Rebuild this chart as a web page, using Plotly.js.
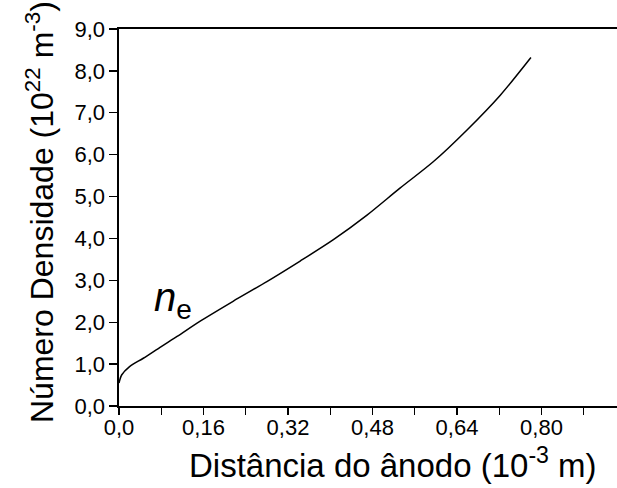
<!DOCTYPE html>
<html><head><meta charset="utf-8">
<script src="https://cdn.plot.ly/plotly-3.0.1.min.js"></script>
<style>body{margin:0;background:#fff}</style>
</head><body>
<div id="chart" style="width:617px;height:488px"></div>
<script>
const distance = [0.000, 0.005, 0.020, 0.046, 0.080, 0.110, 0.153, 0.216, 0.280, 0.343, 0.406, 0.469, 0.532, 0.595, 0.659, 0.722, 0.780];
const density  = [0.55, 0.74, 0.94, 1.14, 1.42, 1.66, 2.02, 2.50, 2.97, 3.46, 3.97, 4.55, 5.20, 5.83, 6.59, 7.42, 8.32];
const xTickVals = [0, 0.08, 0.16, 0.24, 0.32, 0.40, 0.48, 0.56, 0.64, 0.72, 0.80, 0.88];
const xTickText = ["0,0", "", "0,16", "", "0,32", "", "0,48", "", "0,64", "", "0,80", ""];
const yTickVals = [0, 1, 2, 3, 4, 5, 6, 7, 8, 9];
const yTickText = ["0,0", "1,0", "2,0", "3,0", "4,0", "5,0", "6,0", "7,0", "8,0", "9,0"];
const xTitle = 'Distância do ânodo (10<sup>-3</sup> m)';
const yTitle = 'Número Densidade (10<sup>22</sup> m<sup>-3</sup>)';
const curveLabel = {x: 0.102, y: 2.53, text: "<i>n</i><sub>e</sub>"};

const font = "Liberation Sans";
Plotly.newPlot('chart', [{
  x: distance, y: density, mode: 'lines', type: 'scatter',
  line: {color: '#000', width: 1.5, shape: 'spline', smoothing: 0.8}, hoverinfo: 'skip'
}], {
  width: 617, height: 488,
  margin: {l: 119, r: 0, t: 29, b: 82},
  paper_bgcolor: '#fff', plot_bgcolor: '#fff',
  showlegend: false,
  font: {family: font, color: '#000', size: 20},
  xaxis: {
    range: [0, 0.943], showgrid: false, zeroline: false,
    showline: true, linecolor: '#000', linewidth: 1.6, mirror: true,
    ticks: 'outside', ticklen: 7, tickwidth: 1.3, tickcolor: '#000',
    tickmode: 'array', tickvals: xTickVals, ticktext: xTickText,
    ticklabelstandoff: -6,
    tickfont: {size: 22, family: font, color: '#000'}
  },
  yaxis: {
    range: [0, 9], showgrid: false, zeroline: false,
    showline: true, linecolor: '#000', linewidth: 1.6,
    ticks: 'outside', ticklen: 8, tickwidth: 1.3, tickcolor: '#000',
    tickmode: 'array', tickvals: yTickVals, ticktext: yTickText,
    tickfont: {size: 22, family: font, color: '#000'}
  },
  annotations: [{
    x: curveLabel.x, y: curveLabel.y, xref: 'x', yref: 'y', text: curveLabel.text,
    showarrow: false, font: {size: 40, family: font, color: '#000'}
  }, {
    x: (393 - 119) / 498, y: (406 - 463) / 377, xref: 'paper', yref: 'paper', text: xTitle,
    showarrow: false, xanchor: 'center', yanchor: 'middle',
    font: {size: 33, family: font, color: '#000'}
  }, {
    x: (40 - 119) / 498, y: (406 - 212) / 377, xref: 'paper', yref: 'paper', text: yTitle,
    showarrow: false, textangle: -90, xanchor: 'center', yanchor: 'middle',
    font: {size: 32, family: font, color: '#000'}
  }]
}, {displayModeBar: false, staticPlot: true});
</script>
</body></html>
